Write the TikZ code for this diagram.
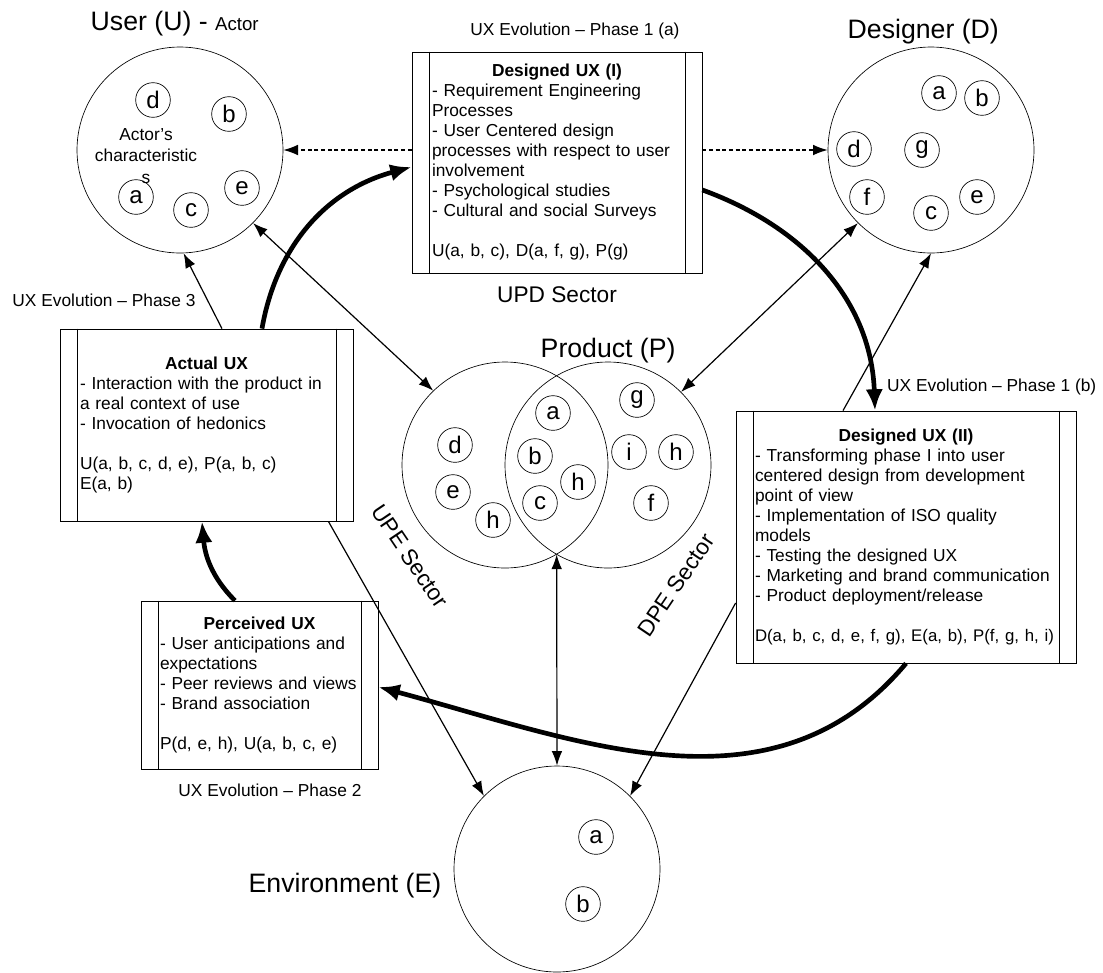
\documentclass[tikz,border=0pt]{standalone}
\usepackage{fontspec}
\setmainfont{Liberation Sans}
\usepackage{tikz}
\usetikzlibrary{arrows.meta,calc}

\newcommand\bigfont{\fontsize{20}{24}\selectfont}
\newcommand\actorfont{\fontsize{14}{17}\selectfont}
\newcommand\sectorfont{\fontsize{17}{20}\selectfont}
\newcommand\boxfont{\fontsize{13}{15}\selectfont}
\newcommand\evofont{\fontsize{13}{15}\selectfont}
\newcommand\letterfont{\fontsize{18}{20}\selectfont}

\begin{document}
\begin{tikzpicture}[x=0.75pt, y=-0.75pt,
  bigcirc/.style={draw, circle, minimum size=154.5pt, inner sep=0pt, line width=0.5pt},
  letter/.style={draw, circle, minimum size=26pt, inner sep=0pt, line width=0.5pt, font=\letterfont},
  procbox/.style={draw, rectangle, inner sep=0pt, line width=0.6pt, font=\boxfont, align=left},
  flow/.style={-{Latex[length=11pt,width=8pt]}, line width=0.9pt},
  bothway/.style={{Latex[length=11pt,width=8pt]}-{Latex[length=11pt,width=8pt]}, line width=0.9pt},
  dashflow/.style={flow, dash pattern=on 3pt off 2pt},
  phase/.style={-{Latex[length=16pt,width=13pt]}, line width=3.5pt},
  evo/.style={font=\evofont}]
  \useasboundingbox (0,0) rectangle (1103,972);

  % Actors
  \node [bigcirc] (user) at (180,150) {};
  \node [bigcirc] (des) at (931,150) {};
  \node [bigcirc] (pl) at (505,465) {};
  \node [bigcirc] (pr) at (608,465) {};
  \node [bigcirc] (env) at (557,869) {};

  % Titles
  \node [anchor=base west, font=\bigfont] (usertitle) at (86,30) {User (U) - {\actorfont Actor}};
  \node [anchor=base west, font=\bigfont] (destitle) at (843,38) {Designer (D)};
  \node [anchor=base west, font=\bigfont] (prodtitle) at (536,357) {Product (P)};
  \node [anchor=base east, font=\bigfont] (envtitle) at (446,892) {Environment (E)};
  \node [font=\sectorfont] (upd) at (557,295) {UPD Sector};
  \node [font=\sectorfont, rotate=-56] (upe) at (410,556) {UPE Sector};
  \node [font=\sectorfont, rotate=56] (dpe) at (676,585) {DPE Sector};

  % User characteristics
  \node [letter] (ud) at (153,100) {d};
  \node [letter] (ub) at (229,114) {b};
  \node [letter] (ua) at (136,197) {a};
  \node [letter] (uc) at (191,210) {c};
  \node [letter] (ue) at (242,188) {e};
  \node [font=\boxfont, align=center, text depth=0pt] (uchar) at (146,156)
    {Actor's\\[1pt]characteristic\\[1pt]s};

  % Designer characteristics
  \node [letter] (da) at (939,93) {a};
  \node [letter] (db) at (982,98) {b};
  \node [letter] (dd) at (854,149) {d};
  \node [letter] (dg) at (922,150) {g};
  \node [letter] (df) at (867,197) {f};
  \node [letter] (dc) at (931,213) {c};
  \node [letter] (de) at (977,197) {e};

  % Product characteristics
  \node [letter] (pd) at (455,445) {d};
  \node [letter] (pe) at (453,492) {e};
  \node [letter] (ph1) at (493,520) {h};
  \node [letter] (pa) at (553,413) {a};
  \node [letter] (pb) at (535,456) {b};
  \node [letter] (pc) at (540,503) {c};
  \node [letter] (ph2) at (578,482) {h};
  \node [letter] (pg) at (637,400) {g};
  \node [letter] (pi) at (629,452) {i};
  \node [letter] (ph3) at (676,452) {h};
  \node [letter] (pf) at (651,503) {f};

  % Environment characteristics
  \node [letter] (ea) at (596,837) {a};
  \node [letter] (eb) at (583,904) {b};

  % UX phases
  \node [procbox, minimum width=217.5pt, minimum height=165.75pt, text width=187.5pt] (duxone) at (557,162.5)
    {\centerline{\textbf{Designed UX (I)}}
     - Requirement Engineering\\ Processes\\ - User Centered design\\ processes with respect to user\\ involvement\\
     - Psychological studies\\ - Cultural and social Surveys\\[15pt] U(a, b, c), D(a, f, g), P(g)};
  \node [procbox, minimum width=219.75pt, minimum height=144pt, text width=189.75pt] (actux) at (206.5,425)
    {\centerline{\textbf{Actual UX}}
     - Interaction with the product in\\ a real context of use\\ - Invocation of hedonics\\[15pt]
     U(a, b, c, d, e), P(a, b, c)\\ E(a, b)};
  \node [procbox, minimum width=177.75pt, minimum height=126pt, text width=149.25pt] (percux) at (259.5,685)
    {\centerline{\textbf{Perceived UX}}
     - User anticipations and\\ expectations\\ - Peer reviews and views\\ - Brand association\\[15pt]
     P(d, e, h), U(a, b, c, e)};
  \node [procbox, minimum width=255pt, minimum height=189pt, text width=226.5pt] (duxtwo) at (906,537)
    {\centerline{\textbf{Designed UX (II)}}
     - Transforming phase I into user\\ centered design from development\\ point of view\\
     - Implementation of ISO quality\\ models\\ - Testing the designed UX\\
     - Marketing and brand communication\\ - Product deployment/release\\[15pt]
     \mbox{\fontsize{12.6}{15}\selectfont D(a, b, c, d, e, f, g), E(a, b), P(f, g, h, i)}};
  \foreach \b in {duxone, actux, percux, duxtwo} {
    \draw [line width=0.6pt] ([xshift=13pt]\b.north west) -- ([xshift=13pt]\b.south west);
    \draw [line width=0.6pt] ([xshift=-13pt]\b.north east) -- ([xshift=-13pt]\b.south east);
  }

  % Phase labels
  \node [evo] (evo1a) at (575,31) {UX Evolution -- Phase 1 (a)};
  \node [evo, anchor=east] (evo1b) at (1101,387) {UX Evolution -- Phase 1 (b)};
  \node [evo] (evo2) at (270,790) {UX Evolution -- Phase 2};
  \node [evo] (evo3) at (104,300) {UX Evolution -- Phase 3};

  % Arrows
  \draw [dashflow] (user.east -| duxone.west) -- (user.east);
  \draw [dashflow] (des.west -| duxone.east) -- (des.west);
  \draw [flow] ([xshift=11.6pt]actux.north) -- (user.-88);
  \draw [bothway] (user.-45) -- (pl.134);
  \draw [bothway] (des.-135) -- (pr.45);
  \draw [flow] ([xshift=-47.25pt]duxtwo.north) -- (des.-90);
  \draw [bothway] (pl.-60) -- (env.north);
  \draw [flow] ([xshift=-18.75pt]actux.south east) -- (env.135);
  \draw [flow] ([yshift=-49.5pt]duxtwo.west) -- (env.45);

  % Evolution
  \draw [phase] ([xshift=41.6pt]actux.north) to[out=80, in=195] ([yshift=-3.4pt]duxone.west);
  \draw [phase] ([yshift=-20.6pt]duxone.east) to[out=-20, in=92] ([xshift=-23.25pt]duxtwo.north);
  \draw [phase] ([xshift=-18.4pt]percux.north) to[out=135, in=-85] ([xshift=-3.4pt]actux.south);
  \draw [phase] (duxtwo.south) to[out=-130, in=-15] ([yshift=-1.5pt]percux.east);
\end{tikzpicture}
\end{document}
